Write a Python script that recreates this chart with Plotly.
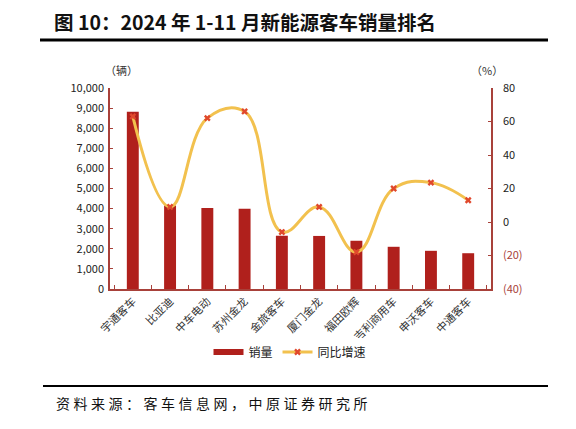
import plotly.graph_objects as go

# 2024 1-11 new energy bus sales ranking
companies = ["宇通客车", "比亚迪", "中车电动", "苏州金龙", "金旅客车",
             "厦门金龙", "福田欧辉", "吉利商用车", "申沃客车", "中通客车"]
sales = [8820, 4150, 4030, 3990, 2650, 2640, 2400, 2100, 1900, 1780]
yoy = [63, 9, 62, 66, -6, 9, -18, 20, 23.5, 13]

right_ticks = [-40, -20, 0, 20, 40, 60, 80]

# page has an 8px body margin, so draw in a slightly smaller figure
OFF = 8
W, H = 576 - 2 * OFF, 429 - 2 * OFF
L, R, T, B = 110 - OFF, 491 - OFF, 88 - OFF, 289 - OFF  # plot area in figure px

def px(x):
    return (x - OFF - L) / (R - L)

def py(y):
    return (B - (y - OFF)) / (B - T)

red = "#B0201C"
axis_red = "#A8413A"
font = "Noto Sans CJK SC, Liberation Sans, sans-serif"

fig = go.Figure()
fig.add_bar(
    x=companies, y=sales, name="销量", showlegend=False,
    marker={"color": red, "line": {"width": 0}},
    width=0.32,
)
# legend entry drawn as a thick stroke, like the wide bar swatch in the original
fig.add_scatter(
    x=[None], y=[None], name="销量", mode="lines",
    line={"color": red, "width": 6},
)
fig.add_scatter(
    x=companies, y=yoy, name="同比增速", yaxis="y2",
    mode="lines+markers",
    line={"color": "#F2C14E", "width": 3, "shape": "spline", "smoothing": 1.2},
    marker={"symbol": "x", "size": 6, "color": "#E0482C"},
)

def tick_text(v):
    if v < 0:
        return f"<span style='color:{axis_red}'>({abs(v)})</span>"
    return str(v)

fig.update_layout(
    width=W, height=H,
    margin={"l": L, "r": W - R, "t": T, "b": H - B},
    plot_bgcolor="white", paper_bgcolor="white",
    font={"family": font, "size": 11, "color": "#222"},
    showlegend=True,
    legend={
        "orientation": "h", "x": px(290), "y": py(352),
        "xanchor": "center", "yanchor": "middle",
        "font": {"size": 12, "color": "#222"}, "itemwidth": 30,
    },
    xaxis={
        "showline": True, "linecolor": axis_red, "linewidth": 1.5,
        "ticks": "inside", "tickson": "boundaries", "ticklen": 4,
        "tickcolor": axis_red, "tickangle": -45, "showgrid": False,
        "tickfont": {"size": 11, "color": "#333"},
    },
    yaxis={
        "range": [0, 10000], "dtick": 1000, "tickformat": ",",
        "showline": True, "linecolor": axis_red, "linewidth": 1.5,
        "ticks": "inside", "ticklen": 3, "tickcolor": axis_red,
        "showgrid": False, "zeroline": False,
        "ticklabelstandoff": 2,
    },
    yaxis2={
        "range": [-40, 80], "overlaying": "y", "side": "right",
        "tickvals": right_ticks, "ticktext": [tick_text(v) for v in right_ticks],
        "showline": True, "linecolor": axis_red, "linewidth": 1.5,
        "ticks": "inside", "ticklen": 3, "tickcolor": axis_red,
        "showgrid": False, "zeroline": False,
        "ticklabelstandoff": 8,
    },
)

# title, rules and notes
fig.add_annotation(
    xref="paper", yref="paper", x=px(52), y=py(22), xanchor="left", yanchor="middle",
    text="<b>图 10：2024 年 1-11 月新能源客车销量排名</b>", showarrow=False,
    font={"size": 19.5, "color": "#111", "family": font},
)
fig.add_shape(type="line", xref="paper", yref="paper",
              x0=px(40), x1=px(548), y0=py(40), y1=py(40),
              line={"color": "black", "width": 3})
fig.add_shape(type="line", xref="paper", yref="paper",
              x0=px(43), x1=px(548), y0=py(386), y1=py(386),
              line={"color": "black", "width": 2})
source = "资料来源：客车信息网，中原证券研究所"
fig.add_annotation(
    xref="paper", yref="paper", x=px(54), y=py(403), xanchor="left", yanchor="middle",
    text="\u2005".join(source), showarrow=False,
    font={"size": 14, "color": "#111", "family": font},
)
fig.add_annotation(
    xref="paper", yref="paper", x=px(121), y=py(70), xanchor="center", yanchor="middle",
    text="（辆）", showarrow=False, font={"size": 11, "color": "#333"},
)
fig.add_annotation(
    xref="paper", yref="paper", x=px(487), y=py(70), xanchor="center", yanchor="middle",
    text="（%）", showarrow=False, font={"size": 11, "color": "#333"},
)

fig.write_html("out.html")
